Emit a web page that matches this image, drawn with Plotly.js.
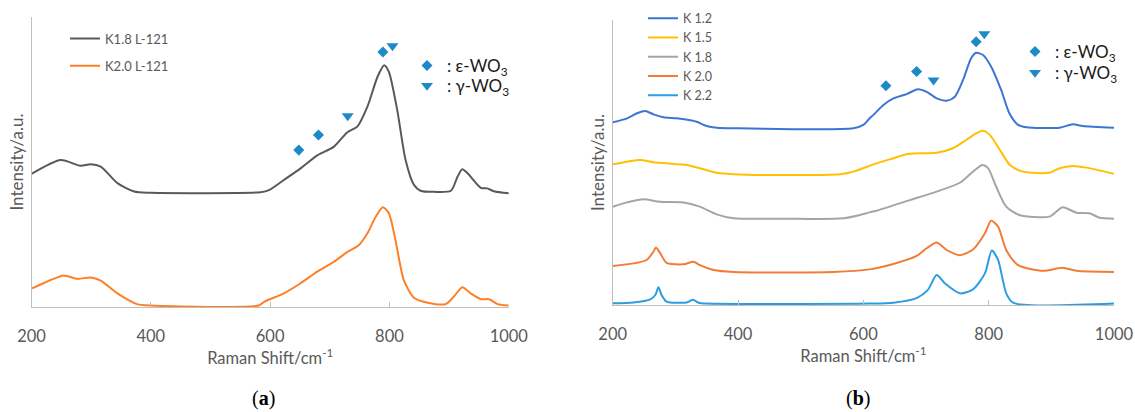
<!DOCTYPE html>
<html>
<head>
<meta charset="utf-8">
<script src="https://cdn.plot.ly/plotly-3.0.1.min.js"></script>
<style>html,body{margin:0;padding:0;background:#fff;}#chart{width:1135px;height:412px;}</style>
</head>
<body>
<div id="chart"></div>
<script>
// ---------- Panel (a) ----------
const aK18_x = [200,249,282,299,316,344,372,400,584,598,623,651,679,707,729,746,763,780,791,799,813,827,841,852,875,903,914,922,931,953,964,975,1000];
const aK18_y = [45.9,50.7,48.7,49.2,48.4,42.7,39.8,39.4,39.6,40.3,43.8,47.8,52.3,55.3,60.2,62.2,69.1,79.4,83.4,81.1,67.9,50.7,42.1,40.1,39.7,40.1,44.9,47.5,46.1,41.1,40.9,39.9,39.2];
const aK20_x = [201,232,254,277,299,316,344,377,400,581,590,623,651,679,707,729,749,763,777,789,799,810,824,841,864,894,908,922,936,953,967,981,1000];
const aK20_y = [6.4,9.3,10.9,9.7,10.2,9.1,4.7,1.0,0.5,0.5,1.8,4.7,8.2,12.2,15.6,18.9,21.4,25.4,31.1,34.4,32.3,23.1,9.3,3.2,1.5,1.0,3.6,6.8,4.7,2.7,2.7,1.0,0.5];
const aEps_x = [648,681,789];
const aEps_y = [54.1,59.3,87.9];
const aGam_x = [730,805];
const aGam_y = [65.9,90.0];

// ---------- Panel (b) ----------
const bK12_x = [200,223,239,252,265,281,302,326,334,350,366,393,584,600,610,616,632,648,669,687,701,717,733,746,759,772,780,791,804,820,833,847,860,913,934,950,1000];
const bK12_y = [64.1,65.5,67.3,68.1,66.9,65.9,65.5,64.7,64.3,62.8,62.2,62.0,62.0,63.2,65.5,66.7,70.2,72.5,74.0,75.7,74.8,72.5,71.7,73.1,78.9,86.6,88.5,87.7,83.6,75.4,67.3,63.2,62.4,62.2,63.4,62.8,62.2];
const bK15_x = [200,223,244,265,286,318,339,366,393,472,563,584,610,621,648,671,717,743,764,780,791,802,818,834,855,897,913,934,956,1000];
const bK15_y = [49.4,50.3,50.9,50.1,49.7,49.1,48.0,46.4,45.9,45.6,45.9,46.8,48.8,49.7,51.5,53.0,53.4,55.0,57.9,60.2,61.1,59.6,54.4,49.1,46.8,46.4,48.0,48.8,48.2,46.0];
const bK18_x = [200,223,249,276,313,339,366,393,472,568,610,621,674,717,754,775,790,799,812,828,849,897,918,940,961,977,1000];
const bK18_y = [34.5,36.0,37.1,36.2,36.0,34.5,31.8,30.4,30.3,30.4,32.5,33.1,36.8,39.8,42.9,46.8,49.1,48.0,41.5,34.5,31.6,31.0,34.3,32.4,32.2,30.6,30.3];
const bK20_x = [200,233,254,265,269,276,286,313,329,339,361,393,552,610,648,685,701,717,733,754,775,794,804,815,828,847,887,918,940,1000];
const bK20_y = [13.7,14.6,15.8,18.7,20.2,18.1,14.8,14.3,15.2,14.0,12.3,11.6,11.6,12.5,14.4,17.2,19.9,21.9,19.3,17.5,19.5,25.2,29.6,27.5,19.3,14.0,12.0,13.1,12.0,11.6];
const bK22_x = [200,233,260,268,273,278,286,318,328,337,350,610,648,685,703,717,730,754,775,794,805,815,828,839,1000];
const bK22_y = [0.6,0.9,2.0,3.5,6.2,3.5,1.2,0.9,1.8,0.8,0.5,0.5,0.8,2.4,5.3,10.5,7.6,4.1,5.5,11.1,19.1,15.8,4.1,0.8,0.5];
const bEps_x = [636,685,780];
const bEps_y = [76.9,81.9,92.4];
const bGam_x = [712,793];
const bGam_y = [78.9,95.1];

const tickVals = [200,400,600,800,1000];
const tickText = ['200','400','600','800','1000'];

const FONT = 'Lato, "Open Sans", sans-serif';
const GREY_TXT = '#595959';
const MK = '#1d8ac7';

function line(x, y, name, color, xa, ya, legend, group) {
  return {type:'scatter', mode:'lines', x:x, y:y, name:name, xaxis:xa, yaxis:ya,
    legend:legend, legendgroup:group,
    line:{color:color, width:2, shape:'spline', smoothing:0.7}, hoverinfo:'x+y+name'};
}
function marks(x, y, name, symbol, size, xa, ya, legend) {
  return {type:'scatter', mode:'markers', x:x, y:y, name:name, xaxis:xa, yaxis:ya, legend:legend,
    marker:{symbol:symbol, size:size, color:MK, line:{width:0}}};
}

const traces = [
  line(aK18_x, aK18_y, 'K1.8 L-121', '#595959', 'x', 'y', 'legend', 'a1'),
  line(aK20_x, aK20_y, 'K2.0 L-121', '#ff7f27', 'x', 'y', 'legend', 'a2'),
  marks(aEps_x, aEps_y, ': ε-WO<sub>3</sub>', 'diamond', 8.5, 'x', 'y', 'legend3'),
  marks(aGam_x, aGam_y, ': γ-WO<sub>3</sub>', 'triangle-down', 10.5, 'x', 'y', 'legend5'),
  line(bK12_x, bK12_y, 'K 1.2', '#3a76d2', 'x2', 'y2', 'legend2', 'b'),
  line(bK15_x, bK15_y, 'K 1.5', '#ffc000', 'x2', 'y2', 'legend2', 'b'),
  line(bK18_x, bK18_y, 'K 1.8', '#a5a5a5', 'x2', 'y2', 'legend2', 'b'),
  line(bK20_x, bK20_y, 'K 2.0', '#f27c35', 'x2', 'y2', 'legend2', 'b'),
  line(bK22_x, bK22_y, 'K 2.2', '#2c9de0', 'x2', 'y2', 'legend2', 'b'),
  marks(bEps_x, bEps_y, ': ε-WO<sub>3</sub>', 'diamond', 8.5, 'x2', 'y2', 'legend4'),
  marks(bGam_x, bGam_y, ': γ-WO<sub>3</sub>', 'triangle-down', 10.5, 'x2', 'y2', 'legend6')
];

function xax(domain, anchor) {
  return {domain:domain, anchor:anchor, range:[200,1000], tickvals:tickVals, ticktext:tickText,
    ticks:'inside', ticklen:5, tickcolor:'#bfbfbf', tickwidth:1,
    showline:true, linecolor:'#bfbfbf', linewidth:1, showgrid:false, zeroline:false,
    ticklabelstandoff:14,
    tickfont:{family:FONT, size:16.5, color:GREY_TXT},
    title:{text:'Raman Shift/cm<sup>-1</sup>', font:{family:FONT, size:16.5, color:GREY_TXT}, standoff:4}};
}
function yax(domain, anchor) {
  return {domain:domain, anchor:anchor, range:[0,100], showticklabels:false, ticks:'',
    showline:true, linecolor:'#bfbfbf', linewidth:1, showgrid:false, zeroline:false,
    title:{text:'Intensity/a.u.', font:{family:FONT, size:17, color:GREY_TXT}, standoff:2}};
}

function mleg(xpx, ypx) {
  return {x:xpx/1135, y:1-ypx/412, xanchor:'left', yanchor:'top', bgcolor:'rgba(0,0,0,0)',
    font:{family:FONT, size:17, color:'#1a1a1a'}};
}

const layout = {
  width:1135, height:412, margin:{l:0,r:0,t:0,b:0},
  paper_bgcolor:'#fff', plot_bgcolor:'#fff',
  xaxis: xax([31.5/1135, 508.8/1135], 'y'),
  yaxis: yax([1-307/412, 1-17/412], 'x'),
  xaxis2: xax([612.7/1135, 1114/1135], 'y2'),
  yaxis2: yax([1-305/412, 1-20/412], 'x2'),
  legend:{x:65/1135, y:1-23.5/412, xanchor:'left', yanchor:'top', bgcolor:'rgba(0,0,0,0)',
    font:{family:FONT, size:13, color:GREY_TXT}, tracegroupgap:7.5, traceorder:'grouped'},
  legend2:{x:643/1135, y:1-3.5/412, xanchor:'left', yanchor:'top', bgcolor:'rgba(0,0,0,0)',
    font:{family:FONT, size:12.5, color:GREY_TXT}},
  legend3: mleg(407, 48),
  legend5: mleg(407, 68),
  legend4: mleg(1015, 34),
  legend6: mleg(1015, 55),
  annotations:[
    {xref:'paper', yref:'paper', x:263/1135, y:1-398/412, xanchor:'center', yanchor:'middle', showarrow:false,
     text:'(<b>a</b>)', font:{family:'"Liberation Serif", serif', size:20, color:'#000'}},
    {xref:'paper', yref:'paper', x:858/1135, y:1-398/412, xanchor:'center', yanchor:'middle', showarrow:false,
     text:'(<b>b</b>)', font:{family:'"Liberation Serif", serif', size:20, color:'#000'}}
  ]
};

Plotly.newPlot('chart', traces, layout, {displayModeBar:false, staticPlot:true});
</script>
</body>
</html>
